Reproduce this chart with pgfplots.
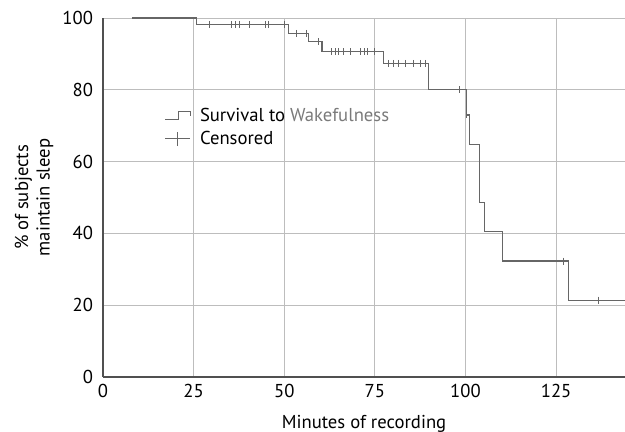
\documentclass[border=0pt]{standalone}
\usepackage{fontspec}
\setmainfont{PT Sans}
\usepackage{pgfplots}
\pgfplotsset{compat=1.18}
\definecolor{curveGray}{HTML}{666666}
\definecolor{gridGray}{HTML}{BDBDBD}
\definecolor{axisGray}{HTML}{505050}
\definecolor{wakeGray}{HTML}{7A7A7A}
\pgfplotsset{
    stepicon/.style={legend image code/.code={
        \draw[curveGray, line width=0.6pt] (0pt,-3pt) -- (10pt,-3pt) -- (10pt,3pt) -- (19pt,3pt) -- (19pt,0pt);
        \path (24pt,0pt);}},
    censicon/.style={legend image code/.code={
        \draw[curveGray, line width=0.6pt] (0pt,0pt) -- (19pt,0pt);
        \draw[curveGray, line width=0.6pt] (9.5pt,-5.5pt) -- (9.5pt,5.5pt);
        \path (24pt,0pt);}},
}

\begin{document}
\begin{tikzpicture}
\begin{axis}[
    at={(0,0)}, anchor=south west,
    scale only axis,
    width=391.5pt, height=269.25pt,
    xmin=0, xmax=144, ymin=0, ymax=100,
    xtick={0,25,50,75,100,125},
    ytick={0,20,40,60,80,100},
    axis lines=left,
    axis line style={axisGray, line width=0.8pt, -},
    major tick length=0pt,
    grid=major,
    grid style={gridGray, line width=0.6pt},
    font=\fontsize{14}{16}\selectfont,
    /pgf/number format/assume math mode=true,
    xticklabel style={yshift=-2pt},
    yticklabel style={xshift=-4pt},
    xlabel={Minutes of recording},
    xlabel style={yshift=-6pt},
    ylabel={\% of subjects\\maintain sleep},
    ylabel style={align=center, yshift=0pt},
    clip=false,
    legend cell align=left,
    legend style={draw=none, fill=none, at={(rel axis cs:0.11,0.765)}, anchor=north west,
        font=\fontsize{14}{16}\selectfont, row sep=2pt},
]
% Kaplan-Meier step curve
\addplot[const plot, curveGray, line width=0.9pt, forget plot] coordinates {
    (8,100) (25.9,98.2) (51.2,95.7) (56.7,93.4) (60.4,90.6) (77.4,87.4)
    (89.9,80) (100.3,73) (101.2,64.8) (103.9,48.5) (105.3,40.5)
    (110.3,32.3) (128.4,21.4) (144,21.4)
};
% censored observations
\addplot[only marks, mark=|, mark size=2.6pt, mark options={curveGray, line width=0.7pt}, forget plot] coordinates {
    (29.3,98.2) (35.4,98.2) (36.5,98.2) (37.6,98.2) (40.3,98.2) (44.8,98.2) (45.6,98.2) (50.0,98.2)
    (53.3,95.7) (56.2,95.7) (59.4,93.4)
    (62.9,90.6) (64.1,90.6) (65.0,90.6) (66.4,90.6) (68.4,90.6) (71.0,90.6) (72.1,90.6) (73.0,90.6) (74.9,90.6)
    (78.8,87.4) (80.2,87.4) (81.6,87.4) (83.4,87.4) (85.7,87.4) (87.6,87.4) (88.9,87.4)
    (98.4,80) (100.3,73) (126.9,32.3) (136.8,21.4)
};
\addlegendimage{stepicon}
\addlegendentry{Survival to {\color{wakeGray}Wakefulness}}
\addlegendimage{censicon}
\addlegendentry{Censored}
\end{axis}
\pgfresetboundingbox
\path (-77.25pt,-41.25pt) rectangle (391.5pt,282.75pt);
\end{tikzpicture}
\end{document}
